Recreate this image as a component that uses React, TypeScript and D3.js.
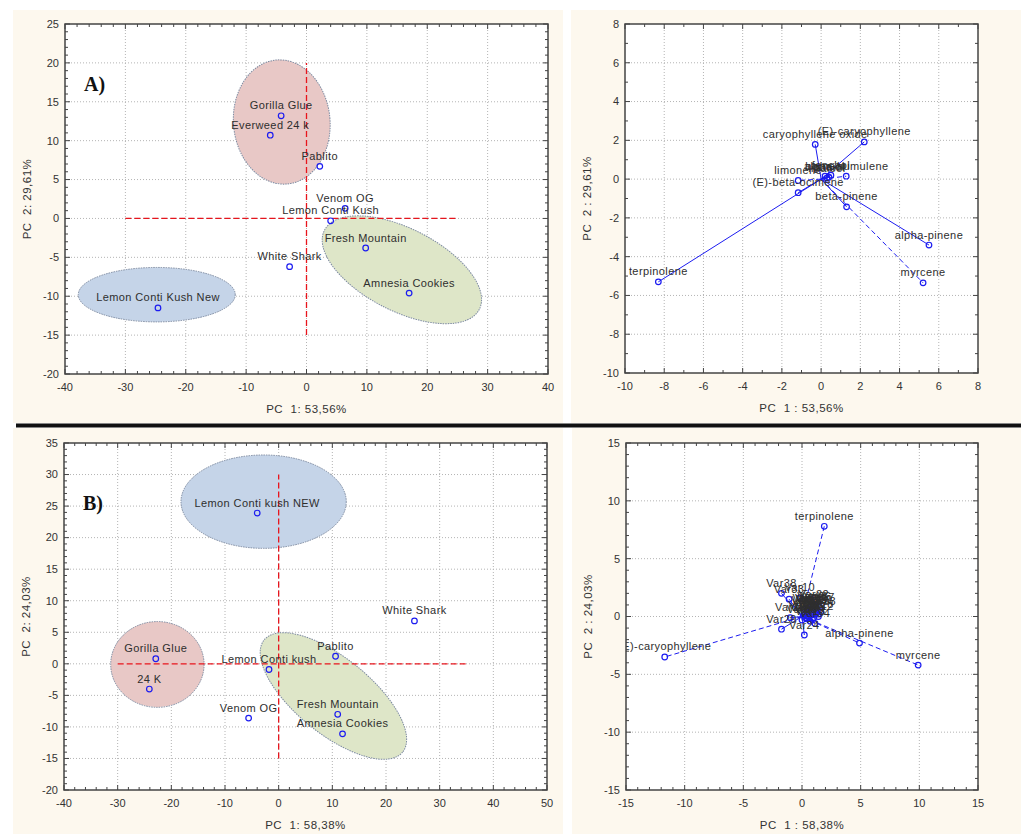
import * as d3 from 'd3';

// ---- A) scores (PC1 53,56% / PC2 29,61%)
const scoresANames = ['Gorilla Glue', 'Everweed 24 k', 'Pablito', 'Venom OG', 'Lemon Conti Kush', 'Fresh Mountain', 'White Shark', 'Amnesia Cookies', 'Lemon Conti Kush New'];
const scoresAPc1 = [-4.2, -6.0, 2.2, 6.4, 4.0, 9.8, -2.8, 17.0, -24.6];
const scoresAPc2 = [13.2, 10.7, 6.7, 1.3, -0.3, -3.8, -6.2, -9.6, -11.5];

// groups: centre (pc1, pc2), half axes in pc1 / pc2 units, tilt in degrees
const groupsACx = [-4.1, -24.8, 15.8];
const groupsACy = [12.4, -9.8, -6.6];
const groupsARx = [8.0, 13.0, 14.4];
const groupsARy = [8.0, 3.5, 5.3];
const groupsAAngle = [-5, 0, 27];

// ---- A) loadings
const loadANames = ['terpinolene', 'alpha-pinene', 'myrcene', 'beta-pinene', '(E)-caryophyllene', 'caryophyllene oxide', 'alpha-humulene', 'limonene', '(E)-beta-ocimene', 'linalool', 'fenchol', 'guaiol', 'borneol'];
const loadAPc1 = [-8.3, 5.5, 5.2, 1.3, 2.2, -0.3, 1.28, -1.17, -1.17, 0.3, 0.5, 0.4, 0.2];
const loadAPc2 = [-5.3, -3.4, -5.35, -1.43, 1.92, 1.79, 0.15, -0.07, -0.7, 0.05, 0.2, 0.1, 0.15];
const loadADashed = ['myrcene', 'alpha-humulene', 'limonene'];

// ---- B) scores (PC1 58,38% / PC2 24,03%)
const scoresBNames = ['Lemon Conti kush NEW', 'White Shark', 'Pablito', 'Gorilla Glue', 'Lemon Conti kush', '24 K', 'Venom OG', 'Fresh Mountain', 'Amnesia Cookies'];
const scoresBPc1 = [-4.0, 25.3, 10.6, -22.9, -1.8, -24.1, -5.6, 11.0, 11.9];
const scoresBPc2 = [23.9, 6.8, 1.2, 0.8, -0.9, -4.0, -8.6, -8.0, -11.1];

const groupsBCx = [-22.6, -2.8, 10.2];
const groupsBCy = [-0.1, 25.7, -5.1];
const groupsBRx = [8.7, 15.4, 16.6];
const groupsBRy = [6.8, 7.4, 6.0];
const groupsBAngle = [0, 0, 39];

// ---- B) loadings
const loadBNames = ['terpinolene', '(E)-caryophyllene', 'alpha-pinene', 'myrcene', 'Var38', 'Var33', 'Var10', 'Var37', 'Var20', 'Var29', 'Var24', 'Var34',
  'Var1', 'Var2', 'Var3', 'Var5', 'Var6', 'Var7', 'Var8', 'Var9', 'Var11', 'Var12', 'Var13', 'Var14', 'Var15', 'Var16',
  'Var17', 'Var18', 'Var19', 'Var21', 'Var22', 'Var23', 'Var25', 'Var26', 'Var27', 'Var28'];
const loadBPc1 = [1.9, -11.7, 4.9, 9.9, -1.75, -1.1, -0.2, 0.7, -1.0, -1.75, 0.2, 1.1,
  0.2, 0.5, 0.8, 1.0, 0.4, 1.2, 0.6, 0.9, 0.1, 1.4, 0.7, 0.3, 1.1, 0.0,
  1.5, 0.9, 1.3, 0.5, 1.0, 1.6, 0.8, 1.2, 0.4, 1.4];
const loadBPc2 = [7.8, -3.5, -2.3, -4.2, 2.0, 1.5, 1.6, 0.65, -0.1, -1.1, -1.6, -0.6,
  0.3, 0.1, 0.2, -0.1, -0.2, 0.3, 0.4, -0.3, 0.1, 0.0, -0.4, -0.1, 0.5, -0.3,
  0.8, 0.9, 0.6, 0.7, 1.0, 0.4, 0.6, 0.9, 0.5, 0.2];
const loadBDashed = ['terpinolene', '(E)-caryophyllene', 'alpha-pinene', 'myrcene'];

const groupFills = ['#e8c8c6', '#c5d4e8', '#dee6c8'];
const groupFillsB = ['#e8c8c6', '#c5d4e8', '#dee6c8'];

const FONT = '"Liberation Sans", Arial, sans-serif';
const CREAM = '#fdf8ee';
const BLUE = '#1c1cf0';

interface Group { cx: number; cy: number; rx: number; ry: number; angle: number; fill: string }

interface PanelProps {
  id: string;
  left: number; right: number; top: number; bottom: number;
  xDomain: [number, number]; yDomain: [number, number];
  xStep: number; yStep: number; xMinor: number; yMinor: number;
  xTitle: string; yTitle: string; tag?: string;
  names: string[]; xs: number[]; ys: number[];
  groups?: Group[];
  cross?: { h: [number, number]; v: [number, number] };
  vectors?: boolean;
  dashed?: string[];
}

const ticksOf = (d: [number, number], step: number) =>
  d3.range(d[0], d[1] + step / 1000, step).map((v) => +v.toFixed(6));

const Panel = (p: PanelProps) => {
  const x = d3.scaleLinear().domain(p.xDomain).range([p.left, p.right]);
  const y = d3.scaleLinear().domain(p.yDomain).range([p.bottom, p.top]);
  const xt = ticksOf(p.xDomain, p.xStep);
  const yt = ticksOf(p.yDomain, p.yStep);
  const xm = ticksOf(p.xDomain, p.xMinor);
  const ym = ticksOf(p.yDomain, p.yMinor);
  const w = p.right - p.left;
  const h = p.bottom - p.top;
  const clip = `clip-${p.id}`;

  return (
    <g>
      <defs>
        <clipPath id={clip}>
          <rect x={p.left} y={p.top} width={w} height={h} />
        </clipPath>
      </defs>
      <rect x={p.left} y={p.top} width={w} height={h} fill="#fff" />
      {/* grid */}
      {xt.slice(1, -1).map((t) => (
        <line key={'gx' + t} x1={x(t)} x2={x(t)} y1={p.top} y2={p.bottom} stroke="#b4b4b4" strokeDasharray="1,2" />
      ))}
      {yt.slice(1, -1).map((t) => (
        <line key={'gy' + t} x1={p.left} x2={p.right} y1={y(t)} y2={y(t)} stroke="#b4b4b4" strokeDasharray="1,2" />
      ))}
      {/* group ellipses */}
      {(p.groups || []).map((g, i) => (
        <ellipse
          key={'e' + i}
          cx={x(g.cx)}
          cy={y(g.cy)}
          rx={Math.abs(x(g.rx) - x(0))}
          ry={Math.abs(y(g.ry) - y(0))}
          transform={`rotate(${g.angle} ${x(g.cx)} ${y(g.cy)})`}
          fill={g.fill}
          stroke="#7d8aa0"
          strokeWidth={1}
          strokeDasharray="1.5,1"
        />
      ))}
      {p.cross && (
        <g stroke="#e8141c" strokeWidth={1.3} strokeDasharray="6,3">
          <line x1={x(p.cross.h[0])} x2={x(p.cross.h[1])} y1={y(0)} y2={y(0)} />
          <line x1={x(0)} x2={x(0)} y1={y(p.cross.v[0])} y2={y(p.cross.v[1])} />
        </g>
      )}
      <g clipPath={`url(#${clip})`}>
        {p.vectors &&
          p.names.map((n, i) => (
            <line
              key={'v' + n}
              x1={x(0)}
              y1={y(0)}
              x2={x(p.xs[i])}
              y2={y(p.ys[i])}
              stroke={BLUE}
              strokeWidth={1}
              strokeDasharray={p.dashed && p.dashed.includes(n) ? '5,3' : undefined}
            />
          ))}
        {p.names.map((n, i) => (
          <circle key={'p' + n} cx={x(p.xs[i])} cy={y(p.ys[i])} r={2.8} fill="none" stroke={BLUE} strokeWidth={1.2} />
        ))}
        {p.names.map((n, i) => (
          <text
            key={'t' + n}
            x={x(p.xs[i])}
            y={y(p.ys[i]) - 6.5}
            textAnchor="middle"
            fontFamily={FONT}
            fontSize={11}
            letterSpacing={0.4}
            fill="#2e2e2e"
          >
            {n}
          </text>
        ))}
      </g>
      {/* frame and inner ticks */}
      <rect x={p.left} y={p.top} width={w} height={h} fill="none" stroke="#444" strokeWidth={1.5} />
      <g stroke="#444" strokeWidth={1}>
        {xm.map((t) => {
          const len = xt.includes(t) ? 5 : 3;
          return (
            <g key={'mx' + t}>
              <line x1={x(t)} x2={x(t)} y1={p.bottom} y2={p.bottom - len} />
              <line x1={x(t)} x2={x(t)} y1={p.top} y2={p.top + len} />
            </g>
          );
        })}
        {ym.map((t) => {
          const len = yt.includes(t) ? 5 : 3;
          return (
            <g key={'my' + t}>
              <line x1={p.left} x2={p.left + len} y1={y(t)} y2={y(t)} />
              <line x1={p.right} x2={p.right - len} y1={y(t)} y2={y(t)} />
            </g>
          );
        })}
      </g>
      {/* tick labels */}
      {xt.map((t) => (
        <text key={'xl' + t} x={x(t)} y={p.bottom + 17} textAnchor="middle" fontFamily={FONT} fontSize={11} fill="#333">
          {t}
        </text>
      ))}
      {yt.map((t) => (
        <text key={'yl' + t} x={p.left - 6} y={y(t)} dy="0.35em" textAnchor="end" fontFamily={FONT} fontSize={11} fill="#333">
          {t}
        </text>
      ))}
      <text x={(p.left + p.right) / 2} y={p.bottom + 39} textAnchor="middle" fontFamily={FONT} fontSize={11.5} letterSpacing={0.5} fill="#333" style={{ whiteSpace: 'pre' }}>
        {p.xTitle}
      </text>
      <text
        transform={`translate(${p.left - 34},${(p.top + p.bottom) / 2}) rotate(-90)`}
        textAnchor="middle"
        fontFamily={FONT}
        fontSize={11.5}
        letterSpacing={0.5}
        fill="#333"
        style={{ whiteSpace: 'pre' }}
      >
        {p.yTitle}
      </text>
      {p.tag && (
        <text x={p.left + 19} y={p.top + 67} fontFamily='"Liberation Serif", "Times New Roman", serif' fontWeight="bold" fontSize={20} fill="#111">
          {p.tag}
        </text>
      )}
    </g>
  );
};

const makeGroups = (cx: number[], cy: number[], rx: number[], ry: number[], ang: number[], fills: string[]): Group[] =>
  cx.map((c, i) => ({ cx: c, cy: cy[i], rx: rx[i], ry: ry[i], angle: ang[i], fill: fills[i] }));

const App = () => {
  return (
    <div style={{ position: 'absolute', left: 0, top: 0 }}>
      <svg width={1025} height={834} style={{ display: 'block', background: '#fff' }}>
        <rect x={13} y={10} width={550} height={413} fill={CREAM} />
        <rect x={571} y={10} width={450} height={413} fill={CREAM} />
        <rect x={13} y={428} width={550} height={406} fill={CREAM} />
        <rect x={572} y={428} width={449} height={406} fill={CREAM} />
        <line x1={16} x2={1021} y1={425.5} y2={425.5} stroke="#111" strokeWidth={4} />

        <Panel
          id="a1"
          left={65} right={548} top={24} bottom={374}
          xDomain={[-40, 40]} yDomain={[-20, 25]}
          xStep={10} yStep={5} xMinor={2} yMinor={1}
          xTitle="PC  1: 53,56%" yTitle="PC  2: 29,61%" tag="A)"
          names={scoresANames} xs={scoresAPc1} ys={scoresAPc2}
          groups={makeGroups(groupsACx, groupsACy, groupsARx, groupsARy, groupsAAngle, groupFills)}
          cross={{ h: [-30, 25], v: [-15, 20] }}
        />
        <Panel
          id="a2"
          left={625} right={978} top={24} bottom={373}
          xDomain={[-10, 8]} yDomain={[-10, 8]}
          xStep={2} yStep={2} xMinor={1} yMinor={1}
          xTitle="PC  1 : 53,56%" yTitle="PC  2 : 29,61%"
          names={loadANames} xs={loadAPc1} ys={loadAPc2}
          vectors dashed={loadADashed}
        />
        <Panel
          id="b1"
          left={64} right={547} top={443} bottom={790}
          xDomain={[-40, 50]} yDomain={[-20, 35]}
          xStep={10} yStep={5} xMinor={2} yMinor={1}
          xTitle="PC  1: 58,38%" yTitle="PC  2: 24,03%" tag="B)"
          names={scoresBNames} xs={scoresBPc1} ys={scoresBPc2}
          groups={makeGroups(groupsBCx, groupsBCy, groupsBRx, groupsBRy, groupsBAngle, groupFillsB)}
          cross={{ h: [-30, 35], v: [-15, 30] }}
        />
        <Panel
          id="b2"
          left={626} right={978} top={443} bottom={790}
          xDomain={[-15, 15]} yDomain={[-15, 15]}
          xStep={5} yStep={5} xMinor={1} yMinor={1}
          xTitle="PC  1 : 58,38%" yTitle="PC  2 : 24,03%"
          names={loadBNames} xs={loadBPc1} ys={loadBPc2}
          vectors dashed={loadBDashed}
        />
      </svg>
    </div>
  );
};

export default App;
